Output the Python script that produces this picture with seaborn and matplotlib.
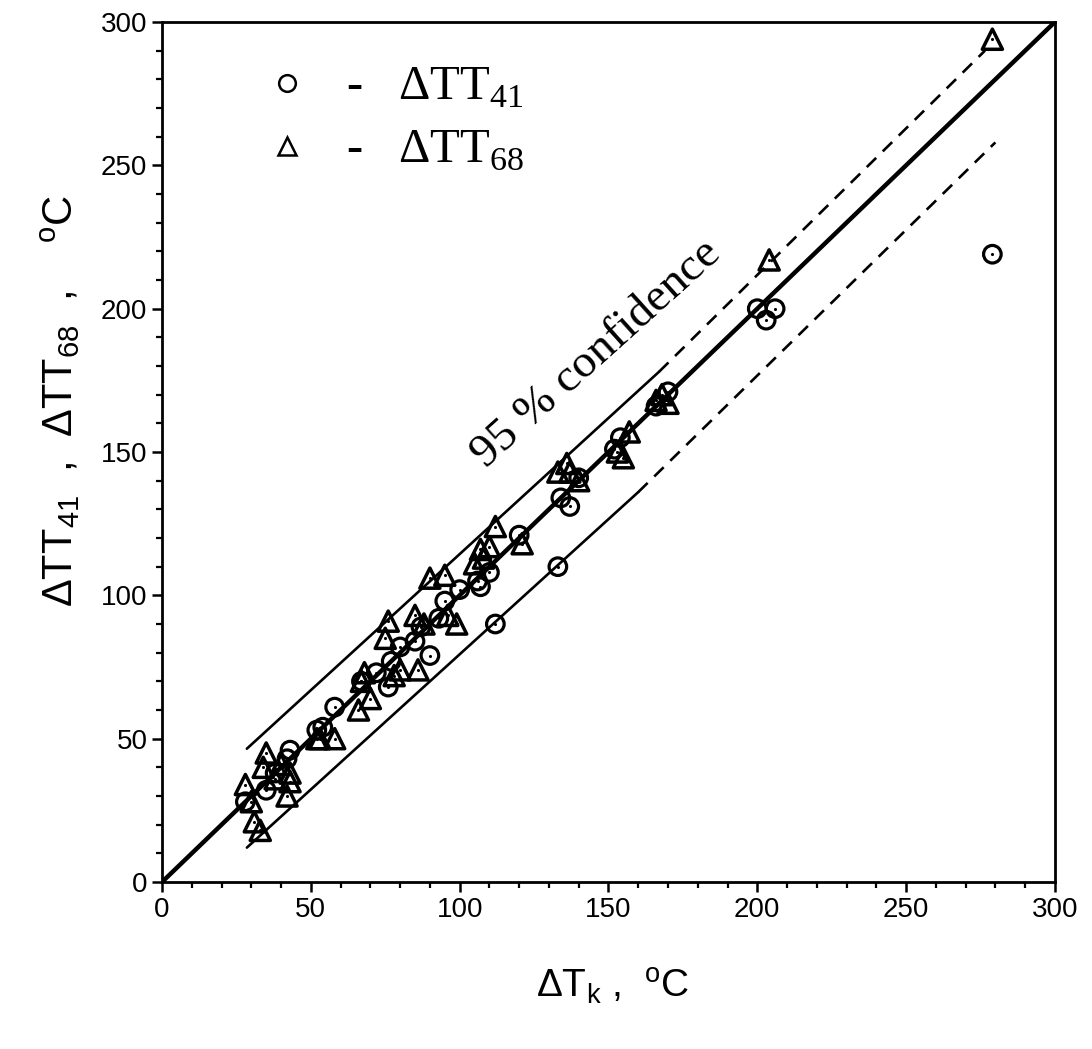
import numpy as np
import pandas as pd
import matplotlib
matplotlib.use("Agg")
import matplotlib.pyplot as plt
from matplotlib.lines import Line2D
import seaborn as sns

# --- data (degC) ---
tk_41 = [28, 35, 38, 42, 43, 52, 54, 58, 67, 72, 76, 77, 80, 85, 87, 90, 93, 95,
         100, 106, 107, 110, 112, 120, 133, 134, 137, 140, 152, 154, 166, 170,
         200, 203, 206, 279]
tt_41 = [28, 32, 38, 43, 46, 53, 54, 61, 70, 73, 68, 77, 82, 84, 89, 79, 92, 98,
         102, 105, 103, 108, 90, 121, 110, 134, 131, 141, 151, 155, 166, 171,
         200, 196, 200, 219]

tk_68 = [28, 30, 31, 33, 34, 35, 38, 40, 42, 43, 43, 52, 53, 58, 66, 67, 68, 70,
         75, 76, 78, 80, 85, 86, 88, 90, 95, 96, 99, 105, 107, 108, 110, 112,
         121, 133, 136, 137, 140, 153, 155, 157, 166, 168, 170, 204, 279]
tt_68 = [34, 28, 21, 18, 40, 45, 36, 41, 30, 35, 38, 50, 50, 50, 60, 70, 73, 64,
         85, 91, 72, 74, 93, 74, 90, 106, 107, 93, 90, 111, 116, 113, 117, 124,
         118, 143, 146, 143, 140, 150, 148, 157, 168, 170, 167, 217, 294]

fit_x = [0, 300]
fit_y = [0, 300]

upper_solid_x = [28.5, 167]
upper_solid_y = [46.5, 178]
upper_dash_x = [167, 276.5]
upper_dash_y = [178, 290]

lower_solid_x = [28.5, 160]
lower_solid_y = [12, 136]
lower_dash_x = [160, 280]
lower_dash_y = [136, 258]

df41 = pd.DataFrame({"tk": tk_41, "tt": tt_41})
df68 = pd.DataFrame({"tk": tk_68, "tt": tt_68})

sns.set_style("white")
plt.rcParams["font.family"] = ["Liberation Sans", "DejaVu Sans"]
plt.rcParams["mathtext.fontset"] = "custom"
plt.rcParams["mathtext.rm"] = "Liberation Serif"
plt.rcParams["mathtext.sf"] = "Liberation Sans"
plt.rcParams["text.color"] = "black"
plt.rcParams["axes.labelcolor"] = "black"
plt.rcParams["xtick.color"] = "black"
plt.rcParams["ytick.color"] = "black"

fig = plt.figure(figsize=(10.92, 10.49), dpi=100)
ax = fig.add_axes([0.1484, 0.1592, 0.8176, 0.8198])

# regression line and 95 % confidence band
ax.plot(fit_x, fit_y, color="black", lw=3.2, zorder=2)
ax.plot(upper_solid_x, upper_solid_y, color="black", lw=1.9, zorder=2)
ax.plot(upper_dash_x, upper_dash_y, color="black", lw=1.9, ls=(0, (5, 3.5)), zorder=2)
ax.plot(lower_solid_x, lower_solid_y, color="black", lw=1.9, zorder=2)
ax.plot(lower_dash_x, lower_dash_y, color="black", lw=1.9, ls=(0, (5, 3.5)), zorder=2)

# open markers with a centre dot
sns.scatterplot(data=df41, x="tk", y="tt", marker="o", s=160, facecolor="none",
                edgecolor="black", linewidth=2.3, ax=ax, zorder=3)
sns.scatterplot(data=df68, x="tk", y="tt", marker="^", s=210, facecolor="none",
                edgecolor="black", linewidth=2.5, ax=ax, zorder=3)
sns.scatterplot(data=df41, x="tk", y="tt", marker="o", s=5, color="black",
                linewidth=0, ax=ax, zorder=4)
sns.scatterplot(data=df68, x="tk", y="tt", marker="o", s=5, color="black",
                linewidth=0, ax=ax, zorder=4)

ax.set_xlim(0, 300)
ax.set_ylim(0, 300)
ax.set_xticks(np.arange(0, 301, 50))
ax.set_yticks(np.arange(0, 301, 50))
ax.set_xticks(np.arange(0, 301, 10), minor=True)
ax.set_yticks(np.arange(0, 301, 10), minor=True)
ax.tick_params(which="major", direction="out", length=7.5, width=1.8, labelsize=20,
               bottom=True, left=True, pad=3)
ax.tick_params(which="minor", direction="out", length=4, width=1.6,
               bottom=True, left=True)
for sp in ax.spines.values():
    sp.set_linewidth(2.0)
    sp.set_color("black")

ax.set_xlabel("ΔT$_\\mathsf{k}$ ,  $^\\mathsf{o}$C", fontsize=28)
ax.set_ylabel("ΔTT$_\\mathsf{41}$  ,  ΔTT$_\\mathsf{68}$  ,    $^\\mathsf{o}$C",
              fontsize=30)
ax.xaxis.set_label_coords(0.504, -0.097)
ax.yaxis.set_label_coords(-0.09, 0.56)

ax.text(146, 184, "95 % confidence", rotation=42, rotation_mode="anchor",
        ha="center", va="center", fontsize=34, family="Liberation Serif")

handles = [
    Line2D([], [], ls="none", marker="o", ms=12, mfc="none", mec="black", mew=1.8),
    Line2D([], [], ls="none", marker="^", ms=13, mfc="none", mec="black", mew=1.8),
]
labels = ["-   ΔTT$_{41}$", "-   ΔTT$_{68}$"]
ax.legend(handles, labels, loc="upper left", bbox_to_anchor=(0.064, 1.0),
          frameon=False, handlelength=1.0, handletextpad=0.7, labelspacing=0.4,
          prop={"family": "Liberation Serif", "size": 35})

fig.savefig("out.png", dpi=100)
